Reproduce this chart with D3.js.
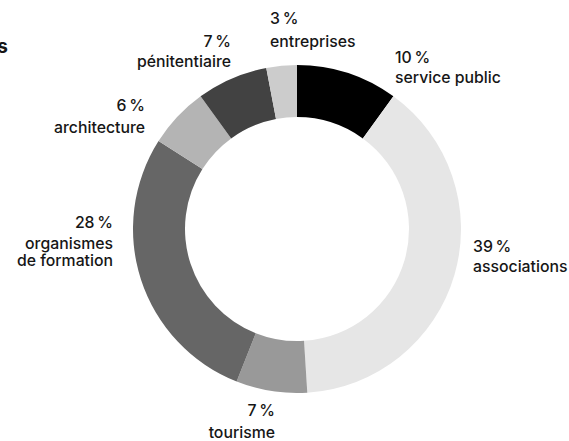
<!DOCTYPE html>
<html>
<head>
<meta charset="utf-8">
<script src="https://cdn.jsdelivr.net/npm/d3@7"></script>
<style>
  body { margin: 0; background: #fff; }
  text { font-family: Inter, "Noto Sans", sans-serif; font-weight: 500; fill: #161616; }
</style>
</head>
<body>
<script>
// donnees
var categories = ["service public", "associations", "tourisme", "organismes de formation", "architecture", "pénitentiaire", "entreprises"];
var values = [10, 39, 7, 28, 6, 7, 3];
var colors = ["#000000", "#e6e6e6", "#999999", "#666666", "#b4b4b4", "#424242", "#cccccc"];
// lignes des etiquettes
var labelLines = [["service public"], ["associations"], ["tourisme"], ["organismes", "de formation"], ["architecture"], ["pénitentiaire"], ["entreprises"]];

var width = 569, height = 441;
var cx = 297, cy = 229;
var outer = 164, inner = 112;

var svg = d3.select("body").append("svg")
  .attr("width", width)
  .attr("height", height);

// titre coupe a gauche
svg.append("text")
  .attr("x", 8).attr("y", 53)
  .attr("text-anchor", "end")
  .style("font-size", "19px")
  .style("font-weight", 700)
  .text("s");

var pie = d3.pie().sort(null).value(function(d){ return d; });
var arc = d3.arc().innerRadius(inner).outerRadius(outer);

var g = svg.append("g").attr("transform", "translate(" + cx + "," + cy + ")");

g.selectAll("path").data(pie(values))
  .enter().append("path")
  .attr("d", arc)
  .attr("fill", function(d, i){ return colors[i]; });

// placement des etiquettes (x, premiere ligne, ancre)
var place = [
  {x: 395, y: 63, a: "start", gap: 20},
  {x: 473, y: 252, a: "start", gap: 20},
  {x: 275, y: 416, a: "end", gap: 22},
  {x: 113, y: 228, a: "end", gap: 21},
  {x: 145, y: 111, a: "end", gap: 22},
  {x: 231, y: 47, a: "end", gap: 20},
  {x: 270, y: 24, a: "start", gap: 23}
];

categories.forEach(function(c, i){
  var p = place[i];
  var t = svg.append("text")
    .attr("text-anchor", p.a)
    .style("font-size", "15.8px");
  t.append("tspan").attr("x", p.x).attr("y", p.y).text(values[i] + "\u202F%");
  labelLines[i].forEach(function(l, j){
    t.append("tspan").attr("x", p.x).attr("y", p.y + p.gap + j * 17).text(l);
  });
});
</script>
</body>
</html>
